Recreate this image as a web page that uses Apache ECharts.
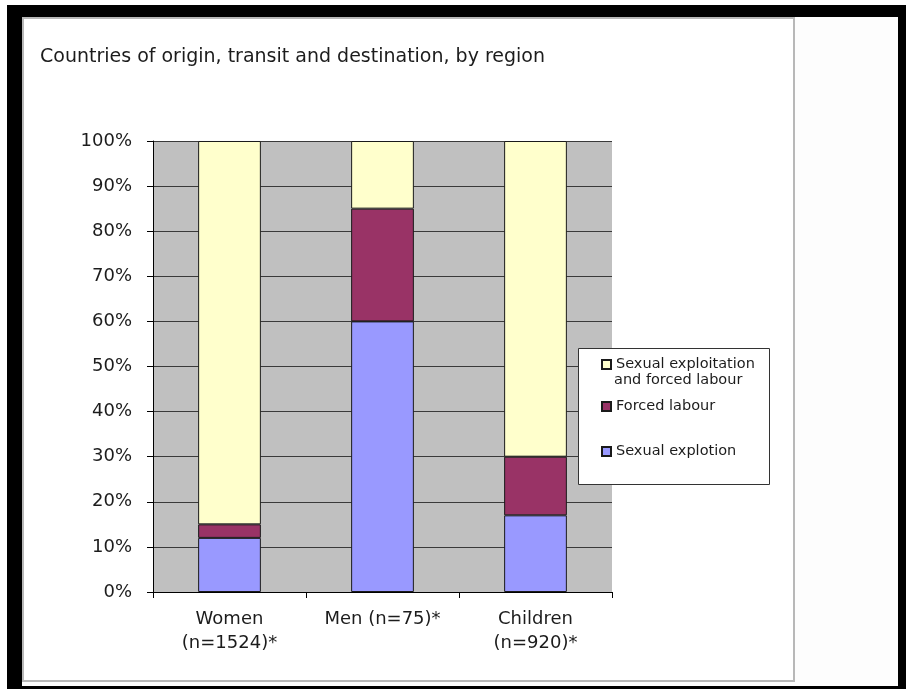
<!DOCTYPE html>
<html>
<head>
<meta charset="utf-8">
<script src="https://cdn.jsdelivr.net/npm/echarts@6/dist/echarts.min.js"></script>
<style>
  html, body { margin: 0; padding: 0; background: #ffffff; }
  #chart { width: 906px; height: 689px; }
</style>
</head>
<body>
<div id="chart"></div>
<script>
// Victim groups along the x axis
const categories = ['Women\n(n=1524)*', 'Men (n=75)*', 'Children\n(n=920)*'];
// Share of each form of exploitation, in percent
const sexualExploitation = [12, 60, 17];
const forcedLabour = [3, 25, 13];
const bothForms = [85, 15, 70];
// Value axis tick labels
const yTicks = [0, 10, 20, 30, 40, 50, 60, 70, 80, 90, 100];

const seriesNames = ['Sexual explotion', 'Forced labour', 'Sexual exploitation and forced labour'];
const seriesColors = ['#9999FF', '#993366', '#FFFFCC'];
const seriesData = [sexualExploitation, forcedLabour, bothForms];

const FONT = '"DejaVu Sans", Verdana, sans-serif';
const TEXT = '#1c1c1c';

const chart = echarts.init(document.getElementById('chart'), null, { renderer: 'canvas' });

// legend entries top-down: both forms, forced labour, sexual exploitation
const legendTops = [352, 394, 439];
const legendOrder = [2, 1, 0];

chart.setOption({
  backgroundColor: '#ffffff',
  animation: false,
  title: {
    text: 'Countries of origin, transit and destination, by region',
    left: 35,
    top: 43,
    textStyle: { fontFamily: FONT, fontSize: 19, fontWeight: 'normal', color: TEXT }
  },
  grid: {
    left: 153, right: 294, top: 141, bottom: 97,
    show: true, backgroundColor: '#C0C0C0', borderWidth: 0
  },
  legend: legendOrder.map((idx, k) => ({
    z: 20,
    data: [seriesNames[idx]],
    left: 596,
    top: legendTops[k],
    orient: 'vertical',
    icon: 'rect',
    itemWidth: 9,
    itemHeight: 9,
    itemGap: 4,
    selectedMode: false,
    formatter: (name) => name === seriesNames[2] ? 'Sexual exploitation' : name,
    textStyle: { fontFamily: FONT, fontSize: 14.5, color: TEXT }
  })),
  xAxis: {
    type: 'category',
    data: categories,
    axisLine: { show: true, lineStyle: { color: '#000', width: 1 } },
    axisTick: { show: true, length: 6, lineStyle: { color: '#000' } },
    axisLabel: { fontFamily: FONT, fontSize: 18, color: TEXT, margin: 15, lineHeight: 24 },
    splitLine: { show: false }
  },
  yAxis: {
    type: 'value',
    min: 0, max: 100, interval: 10,
    axisLine: { show: true, lineStyle: { color: '#000', width: 1 } },
    axisTick: { show: true, length: 6, lineStyle: { color: '#000' } },
    axisLabel: { fontFamily: FONT, fontSize: 18, color: TEXT, margin: 21, formatter: '{value}%' },
    splitLine: { show: true, lineStyle: { color: '#3a3a3a', width: 1 } }
  },
  series: seriesNames.map((name, i) => ({
    name: name,
    type: 'bar',
    stack: 'share',
    barWidth: '41%',
    data: seriesData[i],
    itemStyle: { color: seriesColors[i], borderColor: '#1a1a1a', borderWidth: 1 },
    emphasis: { disabled: true }
  })),
  graphic: [
    // black outer frame
    { type: 'rect', z: -10, silent: true, shape: { x: 7, y: 5, width: 899, height: 684 }, style: { fill: '#000' } },
    // white page inside the frame
    { type: 'rect', z: -9, silent: true, shape: { x: 22, y: 17, width: 876, height: 669 }, style: { fill: '#fdfdfd' } },
    // chart area border
    { type: 'rect', z: -8, silent: true, shape: { x: 23, y: 18, width: 771, height: 663 }, style: { fill: '#ffffff', stroke: '#b8b8b8', lineWidth: 2 } },
    // legend box
    { type: 'rect', z: 1, silent: true, shape: { x: 578.5, y: 348.5, width: 191, height: 136 }, style: { fill: '#ffffff', stroke: '#333', lineWidth: 1 } },
    // second line of the first legend entry
    { type: 'text', z: 30, silent: true, left: 614, top: 373, style: { text: 'and forced labour', font: '14.5px "DejaVu Sans", sans-serif', fill: TEXT } }
  ]
});
</script>
</body>
</html>
